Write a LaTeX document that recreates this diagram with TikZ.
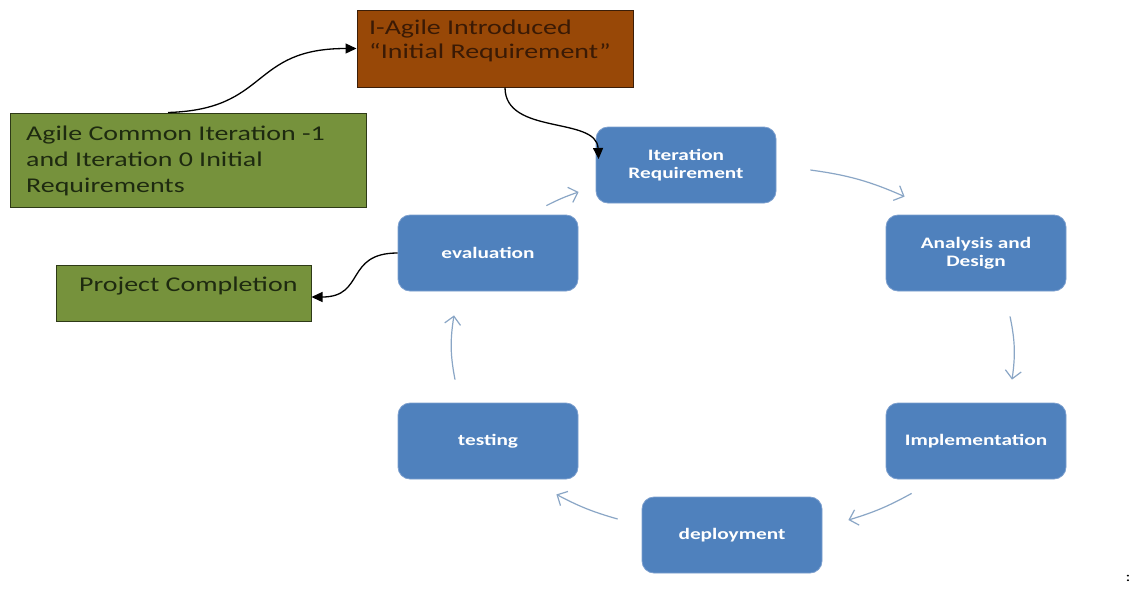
\documentclass[tikz,border=0pt]{standalone}
\usepackage{fontspec}
\setmainfont{Carlito}[FakeStretch=1.33]
\usetikzlibrary{arrows.meta,calc}

\definecolor{boxblue}{HTML}{4F81BD}
\definecolor{boxblueedge}{HTML}{7C9FCE}
\definecolor{leafgreen}{HTML}{76923C}
\definecolor{leafedge}{HTML}{2E3A17}
\definecolor{leaftext}{HTML}{1E2A10}
\definecolor{rust}{HTML}{984807}
\definecolor{rustedge}{HTML}{3B1E08}
\definecolor{rusttext}{HTML}{3A1A05}
\definecolor{flowblue}{HTML}{8AA6C6}

\tikzset{
  stage/.style={draw=boxblueedge, line width=0.8pt, fill=boxblue, rounded corners=12pt,
    minimum width=180pt, minimum height=76pt, inner sep=0pt, text=white, align=center,
    font=\bfseries\fontsize{16}{18}\selectfont},
  greenbox/.style={draw=leafedge, line width=1pt, fill=leafgreen, inner sep=0pt},
  rustbox/.style={draw=rustedge, line width=1pt, fill=rust, inner sep=0pt},
  boxtext/.style={inner sep=0pt, align=left, font=\fontsize{21}{26}\selectfont},
  cycle/.style={draw=flowblue, line width=1.2pt,
    -{Straight Barb[length=8pt,width=16pt,line width=1.2pt]}},
  link/.style={draw=black, line width=1.3pt, -{Triangle[length=11pt,width=10pt]}}
}

\begin{document}
\begin{tikzpicture}[x=1pt,y=-1pt]
\fill[white] (0,0) rectangle (1131,590);
\useasboundingbox (0,0) rectangle (1131,590);

% side boxes (text nodes are anchored at the baseline of their last line)
\node[rustbox, minimum width=276pt, minimum height=77pt] (intro) at (495,48.5) {};
\node[boxtext, text=rusttext, anchor=base west, font=\fontsize{21}{24}\selectfont] (introtext) at (369,58)
  {I-Agile Introduced\\“Initial Requirement”};

\node[greenbox, minimum width=356pt, minimum height=94pt] (common) at (188,160) {};
\node[boxtext, text=leaftext, anchor=base west] (commontext) at (26,192)
  {Agile Common Iteration -1\\and Iteration 0 Initial\\Requirements};

\node[greenbox, minimum width=255pt, minimum height=56pt] (done) at (183.5,293) {};
\node[boxtext, text=leaftext, anchor=base west] (donetext) at (79,291) {Project Completion};

% iteration cycle
\node[stage] (req)  at (686,165) {Iteration\\Requirement};
\node[stage] (ana)  at (976,253) {Analysis and\\Design};
\node[stage] (impl) at (976,441) {Implementation};
\node[stage] (dep)  at (732,535) {deployment};
\node[stage] (test) at (488,441) {testing};
\node[stage] (eval) at (488,253) {evaluation};

\node[inner sep=0pt, font=\fontsize{14}{14}\selectfont] (mark) at (1128,578) {:};

% cycle arrows
\draw[cycle] ($(req.east)+(34,5)$) to[bend left=8] ($(ana.north west)+(19,-18)$);
\draw[cycle] ($(ana.south)+(34,25)$) to[bend left=10] ($(impl.north)+(36,-23)$);
\draw[cycle] ($(impl.south west)+(26,14)$) to[bend left=6] ($(dep.east)+(26,-15)$);
\draw[cycle] ($(dep.west)+(-24,-16)$) to[bend left=6] ($(test.south east)+(-22,15)$);
\draw[cycle] ($(test.north)+(-33,-23)$) to[bend left=10] ($(eval.south)+(-34,24)$);
\draw[cycle] ($(eval.north east)+(-32,-9)$) to[bend left=4] ($(req.west)+(-17,27)$);

% black connectors
\draw[link] ($(common.north)+(-20,0)$) .. controls +(102,-3) and +(-107,0) .. (intro.west);
\draw[link] ($(intro.south)+(10,0)$) .. controls +(0,48) and +(-2,-43) .. ($(req.west)+(3,-6)$);
\draw[link] (eval.west) .. controls +(-53,0) and +(54,0) .. ($(done.east)+(0,4)$);
\end{tikzpicture}
\end{document}
